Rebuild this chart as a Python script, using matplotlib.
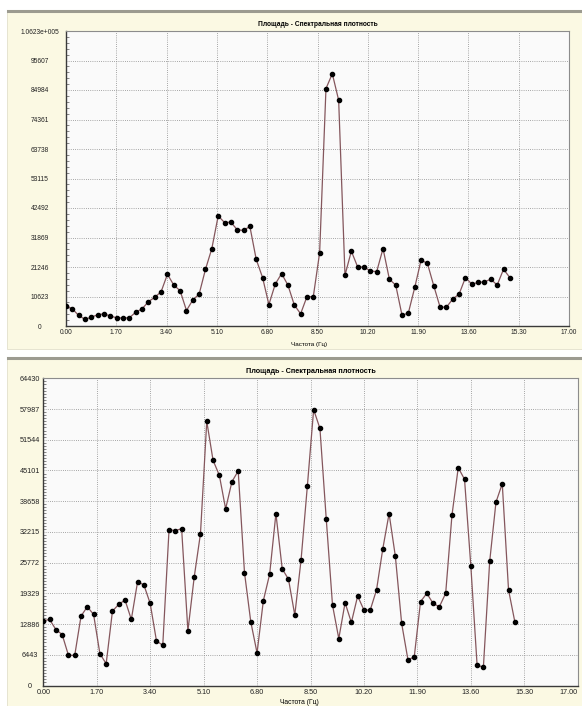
import matplotlib.pyplot as plt
import numpy as np
from matplotlib.patches import Rectangle
from matplotlib.lines import Line2D
from matplotlib.ticker import AutoMinorLocator, FixedLocator

plt.rcParams['font.family'] = ['Liberation Sans', 'DejaVu Sans']

W, H = 582, 706

title = 'Площадь - Спектральная плотность'
xlabel = 'Частота (Гц)'

# frequency step (Hz) of each record
step_top = 0.2143
step_bottom = 0.2

power_top = [7360, 6170, 3800, 2370, 3200, 4040, 4390, 3560, 2970, 2850,
             2970, 4990, 6170, 8780, 10330, 12350, 18640, 14720, 12700, 5580,
             9380, 11510, 20420, 27900, 39650, 37270, 37390, 34660, 34420,
             35850, 23980, 17450, 7720, 15080, 18870, 14720, 7600, 4390,
             10560, 10560, 26350, 85490, 90860, 81310, 18280, 26950, 21250,
             21250, 19820, 19590, 27900, 16860, 14720, 3800, 4750, 13890,
             23740, 22550, 14480, 6770, 6770, 9730, 11510, 17450, 15080,
             15670, 15910, 16860, 14720, 20420, 17450]

power_bottom = [13570, 13850, 11740, 10690, 6330, 6330, 14550, 16520, 14900,
                6680, 4570, 15610, 17010, 17930, 13850, 21790, 21090, 17220,
                9350, 8440, 32690, 32480, 32900, 11460, 22710, 31850, 55400,
                47240, 44080, 37050, 42740, 44990, 23690, 13360, 6820, 17790,
                23340, 36060, 24460, 22290, 14760, 26360, 41830, 57860, 53920,
                35010, 16870, 9840, 17360, 13220, 18770, 15820, 15820, 20040,
                28680, 36060, 27070, 13010, 5410, 5980, 17580, 19330, 17220,
                16520, 19330, 35710, 45700, 43240, 25100, 4220, 3870, 26010,
                38450, 42320, 20040, 13360]

xticks = [0.0, 1.7, 3.4, 5.1, 6.8, 8.5, 10.2, 11.9, 13.6, 15.3, 17.0]
xticklabels = ['0.00', '1.70', '3.40', '5.10', '6.80', '8.50', '10.20',
               '11.90', '13.60', '15.30', '17.00']

yticks_top = [0, 10623, 21246, 31869, 42492, 53115, 63738, 74361, 84984,
              95607, 106230]
yticklabels_top = ['0', '10623', '21246', '31869', '42492', '53115', '63738',
                   '74361', '84984', '95607', '1.0623e+005']

yticks_bottom = [0, 6443, 12886, 19329, 25772, 32215, 38658, 45101, 51544,
                 57987, 64430]
yticklabels_bottom = ['0', '6443', '12886', '19329', '25772', '32215',
                      '38658', '45101', '51544', '57987', '64430']

CREAM = '#fbf9e3'
LINE = '#84565c'


def fig_rect(x0, y0, x1, y1):
    """pixel box (top-left origin) to figure fraction rect"""
    return [x0 / W, 1 - y1 / H, (x1 - x0) / W, (y1 - y0) / H]


def panel_background(fig, y0, y1):
    x, y, w, h = fig_rect(7, y0, W, y1)
    fig.patches.append(Rectangle((x, y), w, h, transform=fig.transFigure,
                                 facecolor=CREAM, edgecolor='#e2e0cc',
                                 linewidth=0.6, zorder=-10))
    fig.lines.append(Line2D([8 / W, 1], [1 - y0 / H] * 2,
                            transform=fig.transFigure, color='#9c9b90',
                            linewidth=2.2, zorder=-5))


def draw_panel(fig, box, freq, power, yticks, yticklabels, ylab_pad,
               minor_n, fs, xlabel_pos, clip_last=False):
    ax = fig.add_axes(fig_rect(*box))
    ax.set_facecolor('#fafafa')
    ax.plot(freq, power, color=LINE, linewidth=0.9, marker='o',
            markersize=3.0, markerfacecolor='black', markeredgecolor='black',
            zorder=3)

    ax.set_xlim(0, 17)
    ax.set_ylim(yticks[0], yticks[-1])
    ax.xaxis.set_major_locator(FixedLocator(xticks))
    ax.set_xticklabels(xticklabels)
    ax.yaxis.set_major_locator(FixedLocator(yticks))
    ax.set_yticklabels(yticklabels)
    ax.yaxis.set_minor_locator(AutoMinorLocator(minor_n))

    ax.tick_params(axis='both', which='major', length=0, labelsize=fs,
                   colors='#222222')
    ax.tick_params(axis='x', pad=2.5)
    ax.tick_params(axis='y', pad=ylab_pad)
    ax.tick_params(axis='y', which='minor', direction='in', length=2,
                   width=0.5, color='#555555')
    for lab in ax.get_yticklabels():
        lab.set_horizontalalignment('center')
    if clip_last:
        # the last label sits on the figure edge, keep it inside
        ax.get_xticklabels()[-1].set_horizontalalignment('right')

    ax.grid(True, which='major', color='#8a8a8a', linewidth=0.6,
            linestyle=(0, (1, 1.6)))
    ax.set_axisbelow(True)

    for side in ('left', 'bottom'):
        ax.spines[side].set_color('#3a3a3a')
        ax.spines[side].set_linewidth(1.0)
    for side in ('top', 'right'):
        ax.spines[side].set_color('#8c8c8c')
        ax.spines[side].set_linewidth(0.8)

    ax.set_title(title, fontsize=fs, fontweight='bold', pad=3.5)
    ax.set_xlabel(xlabel, fontsize=fs - 0.3)
    ax.xaxis.set_label_coords(*xlabel_pos)
    return ax


fig = plt.figure(figsize=(W / 100, H / 100), dpi=100)

panel_background(fig, 11, 349)
panel_background(fig, 358, H)

freq_top = step_top * np.arange(len(power_top))
freq_bottom = step_bottom * np.arange(len(power_bottom))

draw_panel(fig, (66, 31, 569, 326), freq_top, power_top,
           yticks_top, yticklabels_top, 19, 5, 4.8, (0.483, -0.055))
draw_panel(fig, (43.3, 378.3, 577.7, 685.5), freq_bottom, power_bottom,
           yticks_bottom, yticklabels_bottom, 9.6, 10, 5.2, (0.48, -0.043),
           clip_last=True)

fig.savefig('out.png', dpi=100, facecolor='white')
